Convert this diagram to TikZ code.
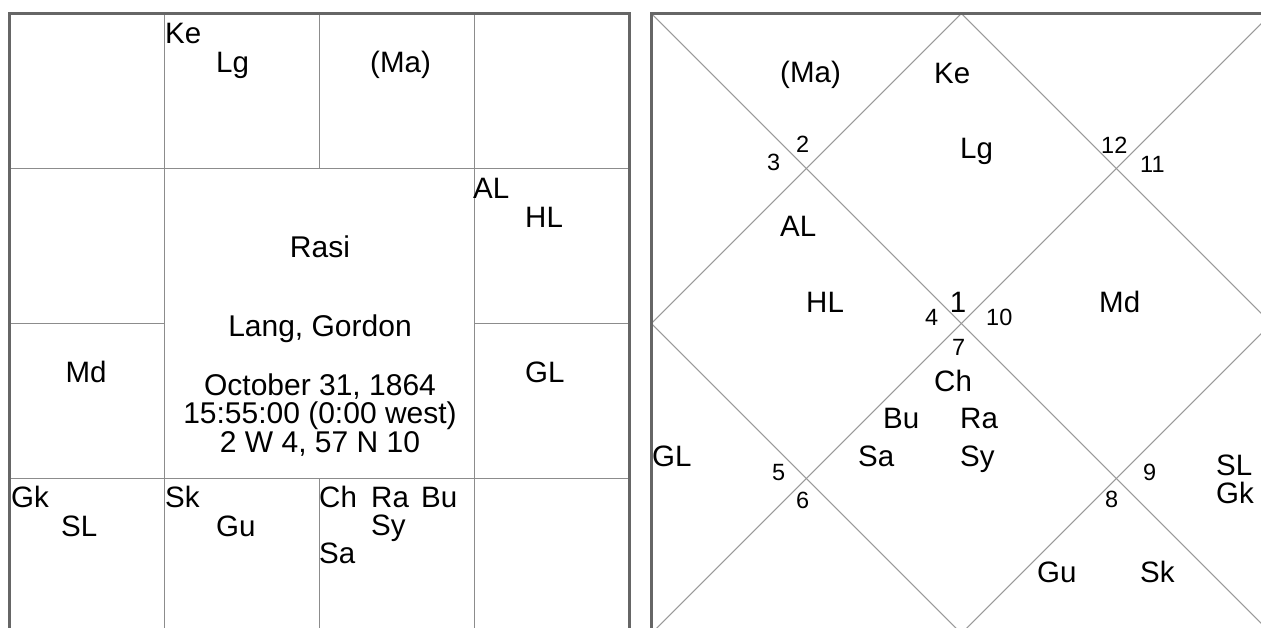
\documentclass[tikz,border=0pt]{standalone}
\usepackage{fontspec}
\setmainfont{Liberation Sans}
\definecolor{frame}{HTML}{666666}
\definecolor{grid}{HTML}{8C8C8C}
\definecolor{diag}{HTML}{9A9A9A}
\tikzset{
  lbl/.style={anchor=base west, inner sep=0pt, font=\fontsize{29.5}{30}\selectfont},
  lblc/.style={anchor=base, inner sep=0pt, font=\fontsize{29.5}{30}\selectfont},
  title/.style={anchor=base, inner sep=0pt, font=\fontsize{30}{31}\selectfont},
  info/.style={anchor=base, inner sep=0pt, font=\fontsize{30}{31}\selectfont},
  num/.style={anchor=base west, inner sep=0pt, font=\fontsize{23.5}{24}\selectfont},
  outer/.style={draw=frame, line width=3pt},
  inner/.style={draw=grid, line width=1pt},
  dline/.style={draw=diag, line width=1pt}
}
\begin{document}
\begin{tikzpicture}[x=1pt,y=-1pt]
\clip (0,0) rectangle (1261,627);
\fill[white] (0,0) rectangle (1261,627);
% ---------- left (south Indian) chart ----------
\draw[inner] (9.7,168.5) -- (629.7,168.5);
\draw[inner] (9.7,478.5) -- (629.7,478.5);
\draw[inner] (164.7,13.5) -- (164.7,633.5);
\draw[inner] (474.7,13.5) -- (474.7,633.5);
\draw[inner] (319.7,13.5) -- (319.7,168.5);
\draw[inner] (319.7,478.5) -- (319.7,633.5);
\draw[inner] (9.7,323.5) -- (164.7,323.5);
\draw[inner] (474.7,323.5) -- (629.7,323.5);
\draw[outer] (9.7,13.5) rectangle (629.7,633.5);
% labels
\node[lbl] (lKe) at (165,43) {Ke};
\node[lbl] (lLg) at (216,72) {Lg};
\node[lbl] (lMa) at (370,72) {(Ma)};
\node[lbl] (lAL) at (473,198) {AL};
\node[lbl] (lHL) at (525,227) {HL};
\node[lbl] (lGL) at (525,382) {GL};
\node[lblc] (lMd) at (86,382) {Md};
\node[lbl] (lGk) at (11,507) {Gk};
\node[lbl] (lSL) at (61,536) {SL};
\node[lbl] (lSk) at (165,507) {Sk};
\node[lbl] (lGu) at (216,536) {Gu};
\node[lbl] (lCh) at (319,507) {Ch};
\node[lbl] (lRa) at (371,507) {Ra};
\node[lbl] (lBu) at (421,507) {Bu};
\node[lbl] (lSy) at (371,535) {Sy};
\node[lbl] (lSa) at (319,563) {Sa};
% centre
\node[title] (rasi) at (320,257) {Rasi};
\node[title] (name) at (320,336) {Lang, Gordon};
\node[info] (date) at (320,395) {October 31, 1864};
\node[info] (time) at (320,423) {15:55:00 (0:00 west)};
\node[info] (place) at (320,452) {2 W 4, 57 N 10};
% ---------- right (north Indian) chart ----------
\draw[dline] (651.3,13.5) -- (1271.3,633.5);
\draw[dline] (1271.3,13.5) -- (651.3,633.5);
\draw[dline] (961.3,13.5) -- (1271.3,323.5) -- (961.3,633.5) -- (651.3,323.5) -- cycle;
\draw[outer] (651.3,13.5) rectangle (1271.3,633.5);
% house numbers
\node[num] (n2) at (796,152) {2};
\node[num] (n3) at (767,170) {3};
\node[num] (n12) at (1101,153) {12};
\node[num] (n11) at (1140,172) {11};
\node[lblc] (n1) at (958,312) {1};
\node[num] (n4) at (925,325) {4};
\node[num] (n10) at (986,325) {10};
\node[num] (n7) at (952,355) {7};
\node[num] (n5) at (772,480) {5};
\node[num] (n6) at (796,508) {6};
\node[num] (n9) at (1143,480) {9};
\node[num] (n8) at (1105,507) {8};
% planets
\node[lbl] (rMa) at (780,82) {(Ma)};
\node[lbl] (rKe) at (934,83) {Ke};
\node[lbl] (rLg) at (960,158) {Lg};
\node[lbl] (rAL) at (780,236) {AL};
\node[lbl] (rHL) at (806,312) {HL};
\node[lbl] (rMd) at (1099,312) {Md};
\node[lbl] (rCh) at (934,391) {Ch};
\node[lbl] (rBu) at (883,428) {Bu};
\node[lbl] (rRa) at (960,428) {Ra};
\node[lbl] (rSa) at (858,466) {Sa};
\node[lbl] (rSy) at (960,466) {Sy};
\node[lbl] (rGL) at (652,466) {GL};
\node[lbl] (rSL) at (1216,475) {SL};
\node[lbl] (rGk) at (1216,503) {Gk};
\node[lbl] (rGu) at (1037,582) {Gu};
\node[lbl] (rSk) at (1140,582) {Sk};
\end{tikzpicture}
\end{document}
